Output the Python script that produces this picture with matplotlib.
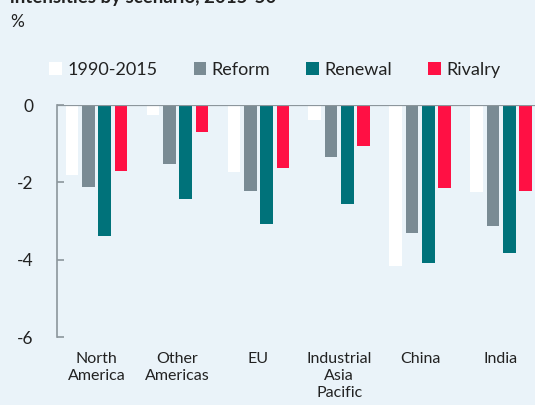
import numpy as np
import matplotlib
matplotlib.use("Agg")
import matplotlib.pyplot as plt

plt.rcParams['font.family'] = ['Lato', 'DejaVu Sans']

regions = ["North\nAmerica", "Other\nAmericas", "EU", "Industrial\nAsia\nPacific", "China", "India"]
series = ["1990-2015", "Reform", "Renewal", "Rivalry"]
hist = [-1.80, -0.27, -1.72, -0.40, -4.17, -2.26]
reform = [-2.13, -1.52, -2.22, -1.35, -3.30, -3.14]
renewal = [-3.38, -2.43, -3.09, -2.55, -4.09, -3.84]
rivalry = [-1.71, -0.69, -1.64, -1.06, -2.14, -2.22]
colors = ["#FFFFFF", "#7A8B94", "#00727A", "#FF1044"]

bg = "#EAF3F9"
axis_col = "#8C969C"

fig = plt.figure(figsize=(5.35, 4.05), dpi=100, facecolor=bg)
ax = fig.add_axes([57 / 535, 1 - 337 / 405, 478 / 535, (337 - 105) / 405])
ax.set_facecolor(bg)

x = np.arange(len(regions))
width = 0.157
step = 0.202
for k, vals in enumerate([hist, reform, renewal, rivalry]):
    ax.bar(x + (k - 1.5) * step, vals, width, color=colors[k], label=series[k], zorder=2)

ax.set_xlim(-0.49, 5.42)
ax.set_ylim(-6, 0)
ax.set_yticks([0, -2, -4, -6])
ax.set_yticklabels(["0", "-2", "-4", "-6"])
ax.axhline(0, color=axis_col, linewidth=1.6, zorder=3)

for s in ["top", "right", "bottom"]:
    ax.spines[s].set_visible(False)
ax.spines["left"].set_color(axis_col)
ax.spines["left"].set_linewidth(1.2)
ax.tick_params(axis="y", direction="in", length=5, width=1.2, color=axis_col,
               labelsize=12.5, labelcolor="#222222", pad=17)
ax.set_xticks(x)
ax.set_xticklabels(regions, fontsize=11.5, color="#222222", linespacing=1.25)
ax.tick_params(axis="x", length=0, pad=11)

fig.text(10 / 535, 1 - 3 / 405, "intensities by scenario, 2015-50", fontsize=13.5,
         fontweight="bold", color="#222222", va="baseline", ha="left")
fig.text(10 / 535, 1 - 27 / 405, "%", fontsize=12.5, color="#222222", va="baseline", ha="left")

leg = fig.legend(loc="center left", bbox_to_anchor=(42 / 535, 1 - 70 / 405), ncol=4,
                 frameon=False, fontsize=13, handlelength=0.7, handleheight=0.7,
                 handletextpad=0.3, columnspacing=2.0, borderaxespad=0)
for t in leg.get_texts():
    t.set_color("#222222")

fig.savefig("out.png", dpi=100, facecolor=bg)
